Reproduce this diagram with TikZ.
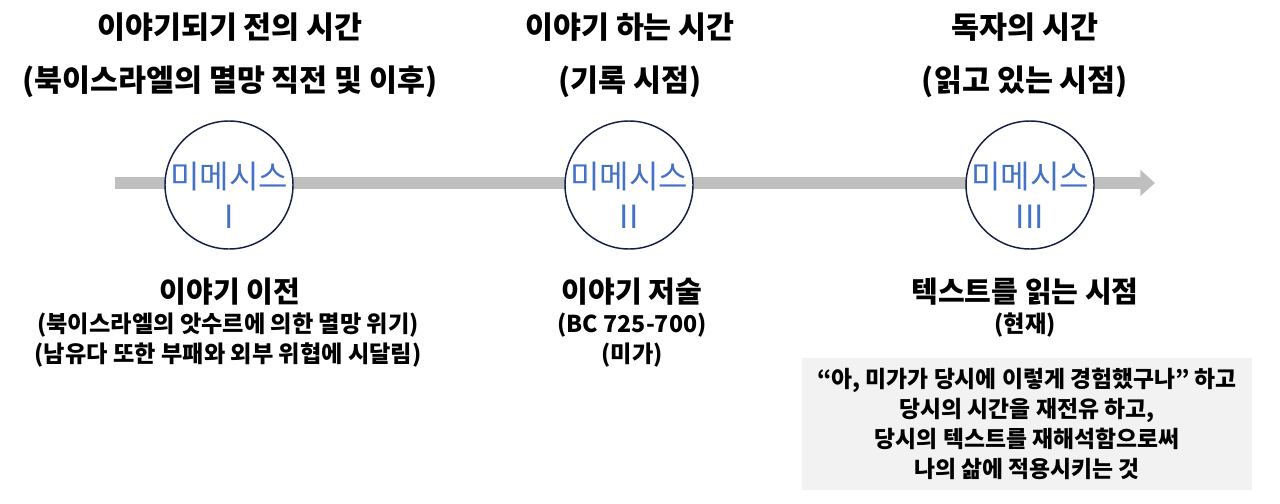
\documentclass[tikz,border=0pt]{standalone}
\usepackage{fontspec}
\setmainfont{Noto Sans CJK KR}
\usepackage{tikz}
\usetikzlibrary{arrows.meta, positioning}
\definecolor{mimblue}{RGB}{68, 114, 196}
\definecolor{bargray}{RGB}{191, 191, 191}
\definecolor{ringnavy}{RGB}{22, 30, 66}
\definecolor{notegray}{RGB}{242, 242, 242}

\begin{document}
\begin{tikzpicture}[x=0.75pt, y=-0.75pt,
    period/.style={font=\fontsize{22.8}{26}\selectfont\bfseries},
    heading/.style={font=\fontsize{21.8}{26}\selectfont\bfseries},
    detail/.style={font=\fontsize{17.4}{21}\selectfont\bfseries},
    mimesis/.style={circle, draw=ringnavy, line width=1.1pt, fill=white, minimum size=96pt, inner sep=0pt},
    mimtext/.style={text=mimblue, align=center, font=\fontsize{24}{30}\selectfont}]
  \useasboundingbox (0, 0) rectangle (1280, 503);

  % Time axis
  \coordinate (start) at (115, 183);
  \coordinate (end) at (1155, 183);
  \draw[bargray, line width=9pt, -{Triangle[length=11pt, width=19pt]}] (start) -- (end);

  % Three times, above the axis
  \node[period] (pre) at (230, 27) {이야기되기 전의 시간};
  \node[period] (presub) at (230, 82) {(북이스라엘의 멸망 직전 및 이후)};
  \node[period] (write) at (630, 27) {이야기 하는 시간};
  \node[period] (writesub) at (630, 82) {(기록 시점)};
  \node[period] (read) at (1025, 27) {독자의 시간};
  \node[period] (readsub) at (1025, 82) {(읽고 있는 시점)};

  % Mimesis circles
  \node[mimesis] (mimA) at (229, 185) {};
  \node[mimesis] (mimB) at (629, 185) {};
  \node[mimesis] (mimC) at (1030, 185) {};
  \node[mimtext] (mimAt) at (229, 195) {미메시스\\I};
  \node[mimtext] (mimBt) at (629, 195) {미메시스\\II};
  \node[mimtext] (mimCt) at (1030, 195) {미메시스\\III};

  % Below the axis
  \node[heading] (before) at (230, 292) {이야기 이전};
  \node[detail] (beforeA) at (228, 325) {(북이스라엘의 앗수르에 의한 멸망 위기)};
  \node[detail] (beforeB) at (228, 355) {(남유다 또한 부패와 외부 위협에 시달림)};
  \node[heading] (writing) at (632, 292) {이야기 저술};
  \node[detail] (writingA) at (632, 325) {(BC 725-700)};
  \node[detail] (writingB) at (632, 355) {(미가)};
  \node[heading] (reading) at (1025, 292) {텍스트를 읽는 시점};
  \node[detail] (readingA) at (1025, 325) {(현재)};

  % Note box
  \node[fill=notegray, minimum width=337pt, minimum height=99pt, align=center,
        font=\fontsize{17.1}{22.5}\selectfont\bfseries] (note) at (1027, 424) {
    “아, 미가가 당시에 이렇게 경험했구나” 하고\\
    당시의 시간을 재전유 하고,\\
    당시의 텍스트를 재해석함으로써\\
    나의 삶에 적용시키는 것
  };
\end{tikzpicture}
\end{document}
